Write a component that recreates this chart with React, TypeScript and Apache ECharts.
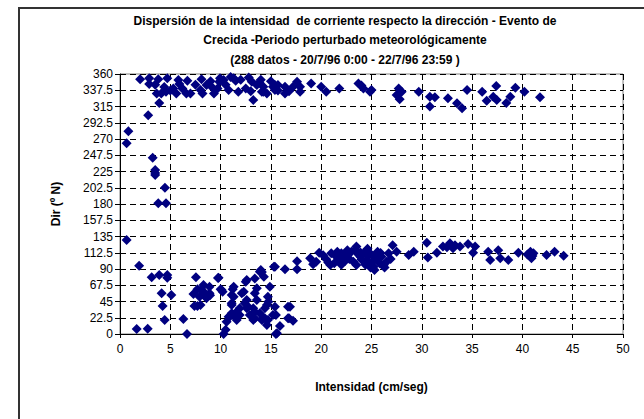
import React, { useEffect, useRef } from "react";
import * as echarts from "echarts";

const titleLines = [
  "Dispersión de la intensidad  de corriente respecto la dirección - Evento de",
  "Crecida -Periodo perturbado meteorológicamente",
  "(288 datos - 20/7/96 0:00 - 22/7/96 23:59 )",
];
const xAxisName = "Intensidad (cm/seg)";
const yAxisName = "Dir (º N)";
const xTicks = [0, 5, 10, 15, 20, 25, 30, 35, 40, 45, 50];
const yTicks = [0, 22.5, 45, 67.5, 90, 112.5, 135, 157.5, 180, 202.5, 225, 247.5, 270, 292.5, 315, 337.5, 360];

// [intensidad, dirección]
const grupoNorte: number[][] = [
  [2.0, 352.6], [2.9, 354], [2.9, 346], [3.8, 352.6], [4.7, 354], [3.65, 333], [4.1, 333], [4.57, 335.5],
  [5.0, 337], [3.9, 320], [2.8, 303], [5.6, 333], [5.8, 351.6], [5.9, 346], [6.7, 350.7], [6.6, 333],
  [7.0, 333], [8.1, 352.6], [8.2, 333], [8.6, 344.8], [9.1, 342.4], [9.34, 333], [9.87, 349.4], [9.94, 354],
  [10.3, 351.6], [9.7, 340], [11.3, 354], [11.5, 350.7], [11.76, 335.5], [13.1, 349.4], [13.25, 324],
  [13.6, 344.8], [13.85, 348], [14.1, 335.5], [14.6, 333], [15.2, 342.4], [15.7, 344.8], [15.7, 337],
  [14.25, 342.4], [14.25, 335.5], [15.4, 344.8], [15.4, 338], [16.4, 342.4], [16.4, 333], [17.2, 342.4],
  [17.6, 349.4], [17.9, 342.4], [17.9, 335.5], [19.0, 347], [20.0, 342.4], [20.5, 335.5], [21.8, 340],
  [23.7, 347], [24.2, 340], [24.85, 335.5], [27.7, 340], [28.0, 335.5], [27.5, 331], [27.8, 325],
  [29.7, 335.5], [30.8, 328.6], [30.8, 315], [31.3, 327.7], [32.6, 326.3], [33.5, 319.4], [34.0, 312.5],
  [34.5, 338], [36.0, 335.5], [36.45, 323], [37.1, 328.6], [37.4, 343.4], [37.45, 324], [38.4, 320],
  [38.8, 328.6], [39.3, 341], [40.2, 335.5], [41.75, 327.7], [6.2, 340], [7.5, 345], [8.0, 338], [9.0, 350],
  [10.5, 345], [10.8, 338], [12.0, 352], [12.5, 340], [13.0, 336], [12.8, 355], [5.3, 340], [4.4, 342],
  [3.5, 345], [11.0, 356], [14.0, 352], [15.0, 350], [24.0, 344], [25.0, 338], [16.8, 336],
];

const grupoTransicion: number[][] = [
  [0.83, 280.6], [0.66, 264], [3.25, 244], [3.5, 227], [3.5, 220], [3.5, 223], [4.47, 202.5], [3.8, 181],
  [4.57, 181],
];

const grupoSur: number[][] = [
  [0.66, 130], [1.9, 94.6], [3.15, 78.5], [3.9, 81.7], [4.7, 81.7], [4.7, 78], [4.14, 56.3], [5.1, 54],
  [4.24, 38.8], [4.44, 19.4], [1.66, 6.9], [2.75, 7.4], [6.3, 20.8], [6.66, 0],
  [7.55, 78.5], [7.3, 55.4], [7.7, 61.9], [7.9, 51.7], [7.4, 38.8], [7.7, 38.8], [8.1, 61.9], [8.35, 56.3],
  [8.95, 53.6], [8.9, 65.5], [9.74, 77.5], [10.0, 61.9], [10.2, 58.6], [10.3, 0], [10.5, 6], [10.8, 24],
  [11.2, 62], [11.1, 42.5], [11.3, 51.7], [11.1, 28.6], [11.6, 30.9], [11.9, 26.3], [11.6, 19.4], [12.5, 72.4],
  [12.4, 42.5], [12.1, 56.3], [12.75, 37.8], [13.25, 19.4], [13.4, 77], [13.6, 63.2], [14.1, 86], [14.3, 79.3],
  [13.6, 47], [13.9, 28.6], [14.25, 21.7], [14.7, 19.4], [14.9, 65.5], [14.7, 51.7], [15.4, 93], [15.4, 37.8],
  [15.5, 26.3], [15.6, 1], [14.0, 88.6], [15.3, 93.2], [16.4, 89.6], [17.6, 89.6], [17.6, 100.6], [16.9, 37.8],
  [15.2, 26.3], [16.8, 21.7], [17.2, 18.5], [14.4, 35.6], [14.4, 21.7], [15.9, 11], [15.5, 0],
  [9.8, 78], [8.3, 67.8], [8.9, 56.3], [10.1, 61], [11.3, 65.5], [11.1, 54], [12.6, 74.8], [13.9, 86.3],
  [13.4, 56.3], [12.3, 58.6], [12.6, 47], [11.1, 40], [11.3, 26.3], [11.9, 35.6], [12.6, 35.6], [13.4, 30.9],
  [13.4, 21.7], [14.75, 44.8], [14.6, 40], [14.1, 19.4], [14.6, 12.5], [10.9, 24], [10.6, 17], [16.7, 37.8],
  [16.7, 21.7], [8.3, 58.6], [8.6, 49.5], [8.0, 40], [12.9, 26.3], [13.25, 35.6],
];

const grupoEste: number[][] = [
  [18.9, 104.8], [19.2, 96.5], [19.8, 112.6], [20.5, 103.4], [20.9, 95.5], [21.0, 111.7], [21.5, 107],
  [22.0, 111.7], [22.4, 101.5], [22.5, 111.7], [23.0, 114], [23.5, 121], [23.5, 95.5], [23.9, 107],
  [24.2, 111.7], [24.5, 102.5], [24.85, 111.7], [25.3, 107], [25.6, 114], [25.3, 88.6], [26.2, 95.5],
  [26.5, 100], [26.7, 111.7], [27.1, 123], [27.5, 114], [28.7, 109.4], [29.2, 114], [30.5, 126.4],
  [30.6, 106], [31.5, 112.6], [32.1, 121], [32.8, 125.5], [33.1, 118.6], [33.8, 121], [34.6, 124.6],
  [35.3, 121], [35.1, 112.6], [36.6, 114], [36.8, 102.5], [37.6, 116], [37.8, 104.8], [38.6, 102.5],
  [39.6, 112.6], [40.8, 114], [41.1, 111.7], [40.9, 104.8], [42.4, 109.4], [43.2, 114], [44.1, 108.4],
  [21.3, 98], [21.8, 103], [22.2, 108], [22.8, 104], [23.2, 100], [23.7, 110], [24.0, 103], [24.4, 96],
  [24.7, 108], [25.0, 99], [25.2, 93], [25.5, 104], [25.8, 98], [26.0, 107], [26.3, 92], [22.6, 116],
  [23.4, 117], [24.6, 118], [21.6, 114], [20.2, 109], [20.7, 99], [19.5, 100], [23.9, 113], [25.9, 112],
  [24.9, 92], [22.0, 96], [26.9, 104], [32.5, 120], [33.3, 123], [40.5, 110], [41.0, 108],
];

export default function App() {
  const ref = useRef<HTMLDivElement>(null);
  useEffect(() => {
    if (!ref.current) return;
    const chart = echarts.init(ref.current, null, { renderer: "svg" });
    const font = "'Liberation Sans', Arial, sans-serif";
    const data = [...grupoNorte, ...grupoTransicion, ...grupoSur, ...grupoEste];
    chart.setOption({
      animation: false,
      backgroundColor: "#fff",
      textStyle: { fontFamily: font },
      title: {
        text: titleLines.join("\n"),
        left: 340,
        top: 6,
        textAlign: "center",
        textStyle: { fontFamily: font, fontSize: 12, fontWeight: "bold", color: "#000", lineHeight: 19.5 },
      },
      graphic: [
        {
          type: "rect",
          shape: { x: 19, y: 8, width: 700, height: 500 },
          style: { fill: "none", stroke: "#333", lineWidth: 2 },
          silent: true,
          z: 100,
        },
      ],
      grid: {
        left: 120,
        top: 74,
        width: 503,
        height: 260,
        show: true,
        borderColor: "#808080",
        borderWidth: 1,
        backgroundColor: "transparent",
      },
      xAxis: {
        type: "value",
        min: xTicks[0],
        max: xTicks[xTicks.length - 1],
        interval: 5,
        name: xAxisName,
        nameLocation: "middle",
        nameGap: 47,
        nameTextStyle: { fontFamily: font, fontSize: 12, fontWeight: "bold", color: "#000" },
        axisLine: { show: true, onZero: false, lineStyle: { color: "#000", width: 1 } },
        axisTick: { show: true, length: 4, lineStyle: { color: "#000" } },
        axisLabel: { fontFamily: font, fontSize: 12, color: "#000", margin: 9 },
        splitLine: { show: true, lineStyle: { color: "#000", type: [6, 4], width: 1 } },
      },
      yAxis: {
        type: "value",
        min: yTicks[0],
        max: yTicks[yTicks.length - 1],
        interval: 22.5,
        name: yAxisName,
        nameLocation: "middle",
        nameGap: 58,
        nameTextStyle: { fontFamily: font, fontSize: 12, fontWeight: "bold", color: "#000" },
        axisLine: { show: true, onZero: false, lineStyle: { color: "#000", width: 1 } },
        axisTick: { show: true, length: 5, lineStyle: { color: "#000" } },
        axisLabel: { fontFamily: font, fontSize: 12, color: "#000", margin: 7 },
        splitLine: { show: true, lineStyle: { color: "#000", type: [6, 4], width: 1 } },
      },
      series: [
        {
          type: "scatter",
          data,
          symbol: "diamond",
          symbolSize: 10,
          itemStyle: { color: "#000080", opacity: 1 },
        },
      ],
    });
    return () => chart.dispose();
  }, []);
  return <div ref={ref} style={{ position: "fixed", left: 0, top: 0, width: 644, height: 419 }} />;
}
